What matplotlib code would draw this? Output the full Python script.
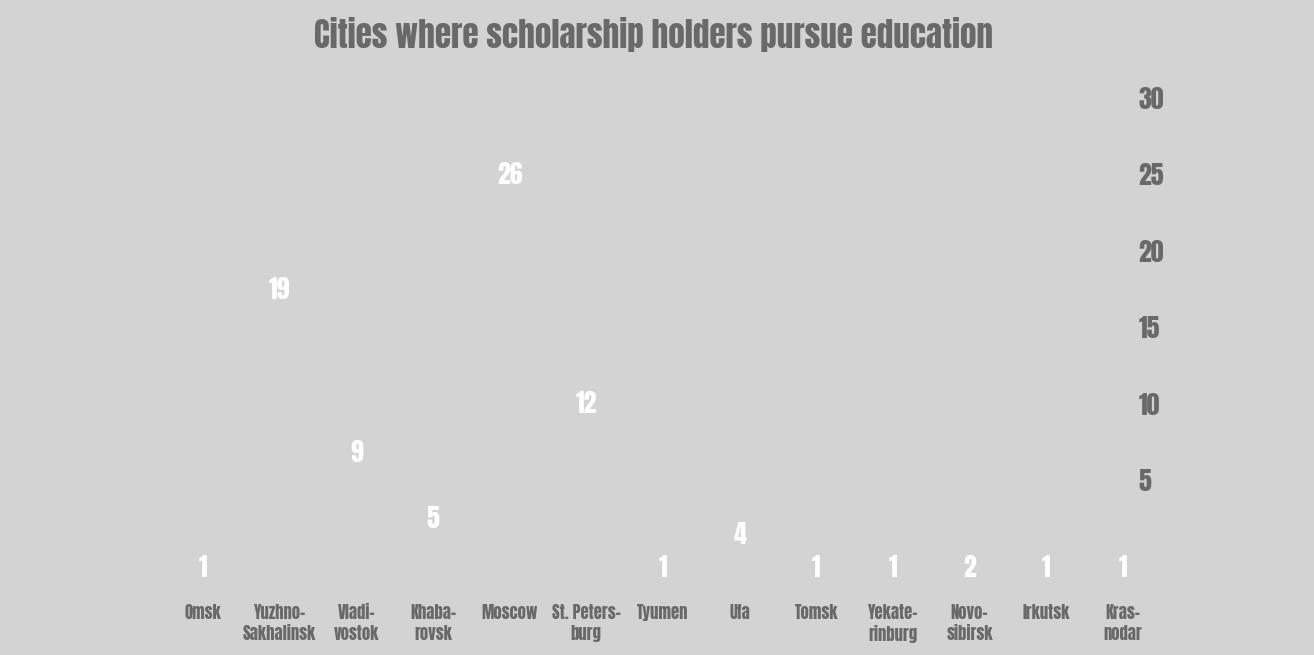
import matplotlib
matplotlib.use("Agg")
import matplotlib.pyplot as plt

cities = ["Omsk", "Yuzhno-\nSakhalinsk", "Vladi-\nvostok", "Khaba-\nrovsk", "Moscow",
          "St. Peters-\nburg", "Tyumen", "Ufa", "Tomsk", "Yekate-\nrinburg",
          "Novo-\nsibirsk", "Irkutsk", "Kras-\nnodar"]
students = [1, 19, 9, 5, 26, 12, 1, 4, 1, 1, 2, 1, 1]
scale_ticks = [5, 10, 15, 20, 25, 30]

bg = "#d3d3d3"
grey = "#696969"
plt.rcParams["font.family"] = ["Anton", "Oswald", "DejaVu Sans"]

W, H = 1314, 655
fig = plt.figure(figsize=(W / 100, H / 100), dpi=100)
fig.patch.set_facecolor(bg)

ax = fig.add_axes([160.8 / W, 55 / H, 977.5 / W, 507 / H])
ax.set_facecolor(bg)
x = list(range(len(cities)))
ax.bar(x, students, width=0.7, color=bg)
ax.set_xlim(-0.55, 12.2)
ax.set_ylim(0, 31)

for i, v in zip(x, students):
    ax.text(i, max(v, 2), str(v), ha="center", va="center",
            color="white", fontsize=18.5)

ax.set_xticks(x)
ax.set_xticklabels(cities, color=grey, fontsize=12, linespacing=1.25)
ax.tick_params(axis="x", length=0, pad=3)
ax.set_yticks([])
for s in ax.spines.values():
    s.set_visible(False)

# value scale on the right
ax2 = ax.twinx()
ax2.set_ylim(-2.853, 30.33)
ax2.set_yticks(scale_ticks)
ax2.set_yticklabels([str(t) for t in scale_ticks], color=grey, fontsize=18.5)
ax2.tick_params(axis="y", length=0, pad=0)
for s in ax2.spines.values():
    s.set_visible(False)

fig.text(0.497, 1 - 48 / H, "Cities where scholarship holders pursue education",
         ha="center", va="baseline", color=grey, fontsize=23.8)

fig.savefig("out.png", dpi=100, facecolor=bg)
